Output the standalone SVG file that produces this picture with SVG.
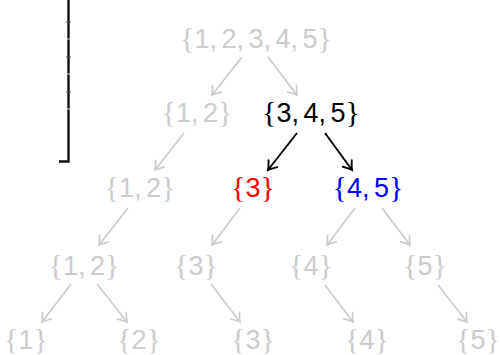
<svg xmlns="http://www.w3.org/2000/svg" width="501" height="355" viewBox="0 0 501 355">
<defs>
<style>
text{font-family:"Liberation Sans",Arial,sans-serif;font-size:27px;text-anchor:middle;word-spacing:-3px}
.b{font-family:"Liberation Serif","Times New Roman",serif;font-size:30px}
.g{fill:#cccccc}
.k{fill:#000000}
.r{fill:#ff0000}
.u{fill:#0000ff}
.eg{stroke:#cccccc;stroke-width:1.7;fill:none}
.ek{stroke:#000000;stroke-width:1.9;fill:none}
</style>
<marker id="ag" markerUnits="userSpaceOnUse" markerWidth="14" markerHeight="14" refX="0" refY="0" viewBox="-10 -7 12 14" orient="auto">
<path d="M-8,-5.5 Q-3,-1.5 0,0 Q-3,1.5 -8,5.5" fill="none" stroke="#cccccc" stroke-width="1.7" stroke-linecap="round"/>
</marker>
<marker id="ak" markerUnits="userSpaceOnUse" markerWidth="14" markerHeight="14" refX="0" refY="0" viewBox="-10 -7 12 14" orient="auto">
<path d="M-8,-5.5 Q-3,-1.5 0,0 Q-3,1.5 -8,5.5" fill="none" stroke="#000000" stroke-width="1.9" stroke-linecap="round"/>
</marker>
</defs>
<rect width="501" height="355" fill="#ffffff"/>
<g id="bar">
<path d="M68.5,0 V161.5 H59" fill="none" stroke="#111111" stroke-width="2.4"/>
<g stroke="#e0e0e0" stroke-width="1">
<line x1="67" y1="39" x2="70" y2="39"/>
<line x1="67" y1="74" x2="70" y2="74"/>
<line x1="67" y1="109" x2="70" y2="109"/>
</g>
<g stroke="#555555" stroke-width="1">
<line x1="66" y1="22" x2="71" y2="22"/>
<line x1="66" y1="57" x2="71" y2="57"/>
<line x1="66" y1="92" x2="71" y2="92"/>
</g>
</g>
<g id="connectors">
<line class="eg" x1="242" y1="57" x2="212" y2="95" marker-end="url(#ag)"/>
<line class="eg" x1="268" y1="57" x2="297" y2="95" marker-end="url(#ag)"/>
<line class="eg" x1="184" y1="133" x2="155" y2="170" marker-end="url(#ag)"/>
<line class="ek" x1="297" y1="133" x2="268" y2="170" marker-end="url(#ak)"/>
<line class="ek" x1="325" y1="133" x2="352" y2="170" marker-end="url(#ak)"/>
<line class="eg" x1="128" y1="208" x2="99" y2="245" marker-end="url(#ag)"/>
<line class="eg" x1="240" y1="208" x2="212" y2="245" marker-end="url(#ag)"/>
<line class="eg" x1="355" y1="208" x2="327" y2="245" marker-end="url(#ag)"/>
<line class="eg" x1="382" y1="208" x2="410" y2="245" marker-end="url(#ag)"/>
<line class="eg" x1="71" y1="284" x2="42" y2="322" marker-end="url(#ag)"/>
<line class="eg" x1="97" y1="284" x2="127" y2="322" marker-end="url(#ag)"/>
<line class="eg" x1="211" y1="284" x2="240" y2="322" marker-end="url(#ag)"/>
<line class="eg" x1="325" y1="285" x2="353" y2="322" marker-end="url(#ag)"/>
<line class="eg" x1="438" y1="285" x2="467" y2="322" marker-end="url(#ag)"/>
</g>
<g id="n12345"><text class="g" x="256" y="48"><tspan class="b">{</tspan>1, 2, 3, 4, 5<tspan class="b">}</tspan></text></g>
<g id="n12a"><text class="g" x="197" y="122"><tspan class="b">{</tspan>1, 2<tspan class="b">}</tspan></text></g>
<g id="n345"><text class="k" x="311" y="122"><tspan class="b">{</tspan>3, 4, 5<tspan class="b">}</tspan></text></g>
<g id="n12b"><text class="g" x="140" y="197"><tspan class="b">{</tspan>1, 2<tspan class="b">}</tspan></text></g>
<g id="n3a"><text class="r" x="253" y="197"><tspan class="b">{</tspan>3<tspan class="b">}</tspan></text></g>
<g id="n45"><text class="u" x="368" y="197"><tspan class="b">{</tspan>4, 5<tspan class="b">}</tspan></text></g>
<g id="n12c"><text class="g" x="84" y="275"><tspan class="b">{</tspan>1, 2<tspan class="b">}</tspan></text></g>
<g id="n3b"><text class="g" x="196" y="275"><tspan class="b">{</tspan>3<tspan class="b">}</tspan></text></g>
<g id="n4a"><text class="g" x="311" y="275"><tspan class="b">{</tspan>4<tspan class="b">}</tspan></text></g>
<g id="n5a"><text class="g" x="425" y="275"><tspan class="b">{</tspan>5<tspan class="b">}</tspan></text></g>
<g id="n1"><text class="g" x="26" y="349"><tspan class="b">{</tspan>1<tspan class="b">}</tspan></text></g>
<g id="n2"><text class="g" x="139" y="349"><tspan class="b">{</tspan>2<tspan class="b">}</tspan></text></g>
<g id="n3c"><text class="g" x="253" y="349"><tspan class="b">{</tspan>3<tspan class="b">}</tspan></text></g>
<g id="n4b"><text class="g" x="367" y="349"><tspan class="b">{</tspan>4<tspan class="b">}</tspan></text></g>
<g id="n5b"><text class="g" x="478" y="349"><tspan class="b">{</tspan>5<tspan class="b">}</tspan></text></g>
</svg>
